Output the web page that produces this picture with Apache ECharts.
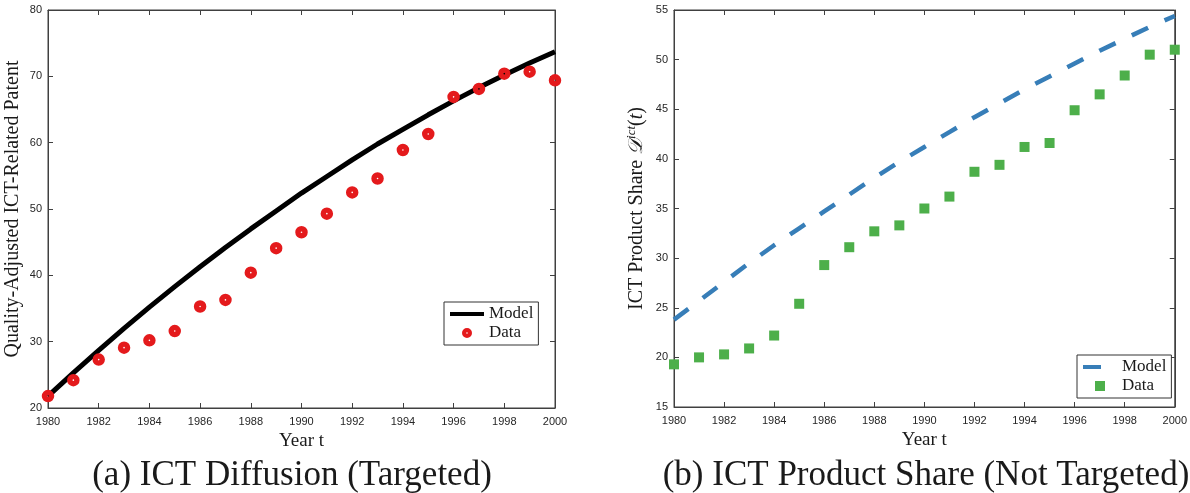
<!DOCTYPE html>
<html>
<head>
<meta charset="utf-8">
<script src="https://cdn.jsdelivr.net/npm/echarts@6/dist/echarts.min.js"></script>
<style>
html,body{margin:0;padding:0;background:#fff;}
#chart{width:1190px;height:493px;}
</style>
</head>
<body>
<div id="chart"></div>
<script>
const years = [1980,1981,1982,1983,1984,1985,1986,1987,1988,1989,1990,1991,1992,1993,1994,1995,1996,1997,1998,1999,2000];
// (a) ICT Diffusion
const modelA = [21.8,25.3,28.7,32.0,35.2,38.3,41.3,44.2,47.0,49.7,52.4,54.9,57.4,59.8,62.0,64.2,66.3,68.3,70.2,72.0,73.7];
const dataA  = [21.8,24.2,27.3,29.1,30.2,31.6,35.3,36.3,40.4,44.1,46.5,49.3,52.5,54.6,58.9,61.3,66.9,68.1,70.4,70.7,69.4];
// (b) ICT Product Share
const modelB = [23.8,25.7,27.6,29.5,31.3,33.0,34.7,36.4,38.1,39.7,41.2,42.7,44.2,45.6,47.0,48.3,49.6,50.9,52.1,53.3,54.4];
const dataB  = [19.3,20.0,20.3,20.9,22.2,25.4,29.3,31.1,32.7,33.3,35.0,36.2,38.7,39.4,41.2,41.6,44.9,46.5,48.4,50.5,51.0];

const captionA = '(a) ICT Diffusion (Targeted)';
const captionB = '(b) ICT Product Share (Not Targeted)';

const pair = (xs, ys) => xs.map((x, i) => [x, ys[i]]);

const AX = '#404040';
const TICK_COL = '#262626';
const TXT = '#1a1a1a';
const SERIF = '"Liberation Serif", "DejaVu Serif", serif';
const SANS = '"Liberation Sans", Arial, sans-serif';
const RED = '#e41a1c', BLUE = '#377eb8', GREEN = '#4daf4a';

// red ring marker with a small white centre
const RING = 'path://M0,-10A10,10,0,1,1,0,10A10,10,0,1,1,0,-10ZM0,-1.3A1.3,1.3,0,1,0,0,1.3A1.3,1.3,0,1,0,0,-1.3Z';
// legend icons (bounding box = itemWidth x itemHeight)
const RING_ICON = 'path://M0,0M34,14M17,2A5,5,0,1,1,17,12A5,5,0,1,1,17,2ZM17,6.2A0.8,0.8,0,1,0,17,7.8A0.8,0.8,0,1,0,17,6.2Z';
const SQUARE_ICON = 'path://M0,0M34,14M12,2H22V12H12Z';
const BAR_ICON = 'path://M0,0M34,14M0,5H34V9H0Z';
const DASH_ICON = 'path://M0,0M34,14M0,5H18V9H0Z';

function xAx(grid, pos, withLabels) {
  return {
    type: 'value', gridIndex: grid, position: pos, min: 1980, max: 2000, interval: 2,
    axisLine: {show: true, lineStyle: {color: AX, width: 1}},
    axisTick: {show: true, inside: true, length: 5, lineStyle: {color: AX}},
    axisLabel: {show: withLabels, formatter: v => String(v), fontFamily: SANS, fontSize: 11, color: TICK_COL, margin: 8},
    splitLine: {show: false},
    name: withLabels ? 'Year t' : '', nameLocation: 'middle', nameGap: 23,
    nameTextStyle: {fontFamily: SERIF, fontSize: 19, color: TXT}
  };
}
function yAx(grid, pos, min, max, interval, withLabels, name, extra) {
  return Object.assign({
    type: 'value', gridIndex: grid, position: pos, min: min, max: max, interval: interval,
    axisLine: {show: true, lineStyle: {color: AX, width: 1}},
    axisTick: {show: true, inside: true, length: 5, lineStyle: {color: AX}},
    axisLabel: {show: withLabels, fontFamily: SANS, fontSize: 11, color: TICK_COL, margin: 6},
    splitLine: {show: false},
    name: withLabels ? name : '', nameLocation: 'middle', nameGap: 25,
    nameTextStyle: {fontFamily: SERIF, fontSize: 20, color: TXT}
  }, extra || {});
}

const chart = echarts.init(document.getElementById('chart'), null, {renderer: 'canvas'});
chart.setOption({
  animation: false,
  backgroundColor: '#fff',
  grid: [
    {left: 48, top: 10, width: 507, height: 398, show: true, borderColor: AX, borderWidth: 1, backgroundColor: 'transparent'},
    {left: 674, top: 10, width: 504, height: 397, show: true, borderColor: AX, borderWidth: 1, backgroundColor: 'transparent'}
  ],
  xAxis: [xAx(0, 'bottom', true), xAx(0, 'top', false), xAx(1, 'bottom', true), xAx(1, 'top', false)],
  yAxis: [
    yAx(0, 'left', 20, 80, 10, true, 'Quality-Adjusted ICT-Related Patent'),
    yAx(0, 'right', 20, 80, 10, false, ''),
    yAx(1, 'left', 15, 55, 5, true, '{a|ICT Product Share }{d|𝒟}{s|ict}{a|(}{i|t}{a|)}', {
      nameGap: 25,
      nameTextStyle: {
        fontFamily: SERIF, fontSize: 20, color: TXT,
        rich: {
          a: {fontFamily: SERIF, fontSize: 20, color: TXT, lineHeight: 24, verticalAlign: 'middle'},
          d: {fontFamily: SERIF, fontSize: 20, fontStyle: 'italic', color: TXT, lineHeight: 24, verticalAlign: 'middle'},
          s: {fontFamily: SERIF, fontSize: 13, fontStyle: 'italic', color: TXT, lineHeight: 13, verticalAlign: 'top'},
          i: {fontFamily: SERIF, fontSize: 20, fontStyle: 'italic', color: TXT, lineHeight: 24, verticalAlign: 'middle'}
        }
      }
    }),
    yAx(1, 'right', 15, 55, 5, false, '')
  ],
  legend: [
    {
      left: 444, top: 302, orient: 'vertical', itemGap: 1, itemWidth: 34, itemHeight: 14,
      padding: [3, 5, 3, 6], borderColor: '#333', borderWidth: 1, backgroundColor: '#fff',
      textStyle: {fontFamily: SERIF, fontSize: 17, color: TXT, lineHeight: 18},
      selectedMode: false,
      data: [
        {name: 'Model', icon: BAR_ICON, itemStyle: {color: '#000'}},
        {name: 'Data', icon: RING_ICON, itemStyle: {color: RED}}
      ]
    },
    {
      left: 1077, top: 355, orient: 'vertical', itemGap: 1, itemWidth: 34, itemHeight: 14,
      padding: [3, 5, 3, 6], borderColor: '#333', borderWidth: 1, backgroundColor: '#fff',
      textStyle: {fontFamily: SERIF, fontSize: 17, color: TXT, lineHeight: 18},
      selectedMode: false,
      formatter: n => n.replace(/ $/, ''),
      data: [
        {name: 'Model ', icon: DASH_ICON, itemStyle: {color: BLUE}},
        {name: 'Data ', icon: SQUARE_ICON, itemStyle: {color: GREEN}}
      ]
    }
  ],
  series: [
    {
      name: 'Model', type: 'line', xAxisIndex: 0, yAxisIndex: 0,
      data: pair(years, modelA), symbol: 'none', showSymbol: false,
      lineStyle: {color: '#000', width: 5}, itemStyle: {color: '#000'}, z: 2
    },
    {
      name: 'Data', type: 'scatter', xAxisIndex: 0, yAxisIndex: 0,
      data: pair(years, dataA), symbol: RING, symbolSize: 12.5,
      itemStyle: {color: RED, opacity: 1}, z: 3
    },
    {
      name: 'Model ', type: 'line', xAxisIndex: 2, yAxisIndex: 2,
      data: pair(years, modelB), symbol: 'none', showSymbol: false,
      lineStyle: {color: BLUE, width: 4.5, type: [18, 18]}, itemStyle: {color: BLUE}, z: 2
    },
    {
      name: 'Data ', type: 'scatter', xAxisIndex: 2, yAxisIndex: 2,
      data: pair(years, dataB), symbol: 'rect', symbolSize: 10,
      itemStyle: {color: GREEN, opacity: 1}, z: 3
    }
  ],
  graphic: [
    {type: 'text', style: {text: captionA, x: 292, y: 476, textAlign: 'center', textVerticalAlign: 'middle', font: '35px ' + SERIF, fill: TXT}},
    {type: 'text', style: {text: captionB, x: 926, y: 476, textAlign: 'center', textVerticalAlign: 'middle', font: '35px ' + SERIF, fill: TXT}}
  ]
});
</script>
</body>
</html>
